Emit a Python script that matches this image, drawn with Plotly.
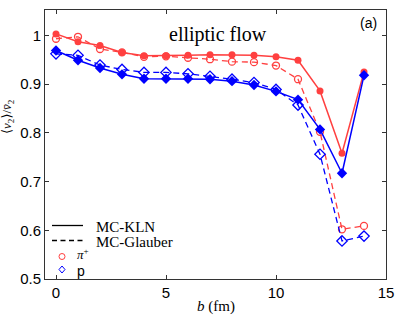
import plotly.graph_objects as go

b = [0, 1, 2, 3, 4, 5, 6, 7, 8, 9, 10, 11, 12, 13, 14]
pi_kln = [1.003, 0.987, 0.979, 0.965, 0.958, 0.958, 0.959, 0.960, 0.960, 0.959, 0.956, 0.949, 0.886, 0.758, 0.925]
pi_glb = [0.993, 0.997, 0.972, 0.965, 0.956, 0.957, 0.954, 0.951, 0.946, 0.945, 0.938, 0.910, 0.802, 0.602, 0.609]
p_kln = [0.969, 0.949, 0.933, 0.920, 0.911, 0.911, 0.911, 0.910, 0.906, 0.898, 0.885, 0.868, 0.807, 0.717, 0.918]
p_glb = [0.962, 0.959, 0.939, 0.930, 0.924, 0.924, 0.921, 0.916, 0.910, 0.903, 0.889, 0.857, 0.756, 0.578, 0.588]

xticks = [0, 5, 10, 15]
yticks = [0.5, 0.6, 0.7, 0.8, 0.9, 1.0]
yticktext = ["0.5", "0.6", "0.7", "0.8", "0.9", "1"]

legend_lines = ["MC-KLN", "MC-Glauber"]
legend_marks = ["<i>π</i><sup>+</sup>", "p"]

RED = "#ff4040"
BLUE = "#0000ff"
SERIF = "Liberation Serif, DejaVu Serif, serif"
SANS = "Liberation Sans, Arial, sans-serif"

# plot area in pixels (for converting legend placement into paper coordinates)
L, R, T, B = 45, 386, 10, 279
W, H = 399, 317


def px(x):
    return (x - L) / (R - L)


def py(y):
    return (B - y) / (B - T)


fig = go.Figure()
fig.add_trace(go.Scatter(x=b, y=pi_glb, mode="lines+markers", showlegend=False,
                         line=dict(color=RED, width=1.3, dash="6px,4px"),
                         marker=dict(symbol="circle-open", size=7, color=RED, line=dict(width=1.3))))
fig.add_trace(go.Scatter(x=b, y=p_glb, mode="lines+markers", showlegend=False,
                         line=dict(color=BLUE, width=1.3, dash="6px,4px"),
                         marker=dict(symbol="diamond-open", size=8, color=BLUE, line=dict(width=1.3))))
fig.add_trace(go.Scatter(x=b, y=pi_kln, mode="lines+markers", showlegend=False,
                         line=dict(color=RED, width=1.5),
                         marker=dict(symbol="circle", size=7, color=RED)))
fig.add_trace(go.Scatter(x=b, y=p_kln, mode="lines+markers", showlegend=False,
                         line=dict(color=BLUE, width=1.5),
                         marker=dict(symbol="diamond", size=8, color=BLUE)))

axis_common = dict(showline=True, linecolor="#333333", linewidth=1, mirror="ticks",
                   ticks="inside", ticklen=4, tickcolor="#333333", showgrid=False,
                   zeroline=False, automargin=False,
                   tickfont=dict(family=SANS, size=15, color="black"))

shapes = [
    dict(type="line", xref="paper", yref="paper", x0=px(52), x1=px(83), y0=py(225.5), y1=py(225.5),
         line=dict(color="black", width=1.3)),
    dict(type="line", xref="paper", yref="paper", x0=px(52), x1=px(83), y0=py(240.5), y1=py(240.5),
         line=dict(color="black", width=1.3, dash="5px,3.5px")),
    dict(type="circle", xref="paper", yref="paper", x0=px(59), x1=px(65), y0=py(253.5), y1=py(259.5),
         line=dict(color=RED, width=1)),
    dict(type="path", xref="paper", yref="paper",
         path=f"M {px(62)} {py(266)} L {px(65)} {py(269.5)} L {px(62)} {py(273)} L {px(59)} {py(269.5)} Z",
         line=dict(color=BLUE, width=1)),
]

annotations = [
    dict(text="elliptic flow", xref="paper", yref="paper", x=px(218), y=py(35),
         xanchor="center", yanchor="middle", showarrow=False,
         font=dict(family=SERIF, size=20, color="black")),
    dict(text="(a)", xref="paper", yref="paper", x=px(368), y=py(23),
         xanchor="center", yanchor="middle", showarrow=False,
         font=dict(family=SANS, size=14, color="black")),
    dict(text=legend_lines[0], xref="paper", yref="paper", x=px(94), y=py(226.5),
         xanchor="left", yanchor="middle", showarrow=False,
         font=dict(family=SERIF, size=15, color="black")),
    dict(text=legend_lines[1], xref="paper", yref="paper", x=px(94), y=py(242),
         xanchor="left", yanchor="middle", showarrow=False,
         font=dict(family=SERIF, size=15, color="black")),
    dict(text=legend_marks[0], xref="paper", yref="paper", x=px(75), y=py(254),
         xanchor="left", yanchor="middle", showarrow=False,
         font=dict(family=SERIF, size=13, color="black")),
    dict(text=legend_marks[1], xref="paper", yref="paper", x=px(75), y=py(271),
         xanchor="left", yanchor="middle", showarrow=False,
         font=dict(family=SANS, size=14, color="black")),
    dict(text="⟨<i>v</i><sub>2</sub>⟩/<i>v̄</i><sub>2</sub>", xref="paper", yref="paper",
         x=px(8), y=py(117), xanchor="center", yanchor="middle", textangle=-90, showarrow=False,
         font=dict(family=SERIF, size=13, color="black")),
    dict(text="<i>b</i> (fm)", xref="paper", yref="paper", x=px(215.5), y=py(307),
         xanchor="center", yanchor="middle", showarrow=False,
         font=dict(family=SERIF, size=15, color="black")),
]

fig.update_layout(
    width=W, height=H,
    margin=dict(l=L, r=W - R, t=T, b=H - B),
    paper_bgcolor="white", plot_bgcolor="white",
    showlegend=False,
    xaxis=dict(range=[-0.5, 15], tickvals=xticks, **axis_common),
    yaxis=dict(range=[0.5, 1.052], tickvals=yticks, ticktext=yticktext, **axis_common),
    shapes=shapes,
    annotations=annotations,
)

fig.write_html("out.html", config={"displayModeBar": False},
               post_script="document.body.style.margin='0';document.body.style.overflow='hidden';")
